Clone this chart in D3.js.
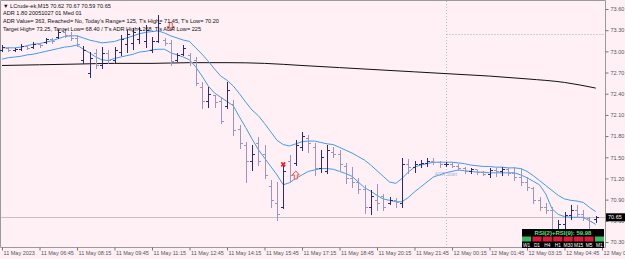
<!DOCTYPE html>
<html>
<head>
<meta charset="utf-8">
<script src="https://cdn.jsdelivr.net/npm/d3@7"></script>
<style>
  body { margin: 0; background: #fff0f5; }
  svg { display: block; font-family: "Liberation Sans", Arial, sans-serif; }
</style>
</head>
<body>
<svg id="chart" width="625" height="259"></svg>
<script>
// M15 bars, index 0 = 11 May 05:15
const timeLabels = ["11 May 2023", "11 May 06:45", "11 May 08:15", "11 May 09:45", "11 May 11:15",
  "11 May 12:45", "11 May 14:15", "11 May 15:45", "11 May 17:15", "11 May 18:45", "11 May 20:15",
  "11 May 21:45", "12 May 00:15", "12 May 01:45", "12 May 03:15", "12 May 04:45", "12 May 06:15"];

const barHigh = [73.09, 73.06, 73.05, 73.10, 73.09, 73.13, 73.12, 73.19, 73.19, 73.30, 73.31, 73.27, 73.23, 73.08, 72.99, 73.04,
  73.06, 73.02, 73.06, 73.23, 73.30, 73.33, 73.34, 73.37, 73.20, 73.51, 73.19, 73.16, 72.97, 73.09, 72.97, 72.92,
  72.56, 72.49, 72.38, 72.35, 72.56, 72.31, 71.96, 71.72, 71.67, 71.79, 71.67, 71.18, 71.15, 71.40, 71.53, 71.74,
  71.86, 71.81, 71.70, 71.60, 71.67, 71.64, 71.60, 71.42, 71.36, 71.21, 71.11, 71.04, 71.12, 70.98, 70.94, 70.92,
  71.49, 71.47, 71.45, 71.46, 71.49, 71.49, 71.45, 71.43, 71.43, 71.40, 71.36, 71.35, 71.32, 71.30, 71.35, 71.35,
  71.36, 71.35, 71.36, 71.35, 71.22, 71.08, 70.94, 70.85, 70.79, 70.61, 70.73, 70.82, 70.82, 70.75, 70.65, 70.67];
const barLow = [73.00, 73.00, 73.00, 73.02, 73.03, 73.05, 73.06, 73.12, 73.12, 73.19, 73.20, 73.16, 73.08, 72.83, 72.63, 72.76,
  72.76, 72.83, 72.85, 72.95, 72.99, 73.04, 73.12, 73.06, 72.99, 73.13, 73.09, 72.80, 72.87, 72.95, 72.80, 72.52,
  72.20, 72.21, 72.21, 71.98, 72.20, 71.81, 71.63, 71.15, 71.32, 71.39, 71.21, 70.80, 70.61, 70.78, 71.15, 71.39,
  71.60, 71.57, 71.25, 71.29, 71.28, 71.50, 71.32, 71.14, 71.08, 70.99, 70.71, 70.70, 70.75, 70.75, 70.84, 70.80,
  70.80, 71.28, 71.29, 71.36, 71.38, 71.40, 71.36, 71.38, 71.36, 71.32, 71.28, 71.28, 71.26, 71.25, 71.22, 71.23,
  71.25, 71.25, 71.18, 71.11, 71.04, 70.85, 70.75, 70.71, 70.33, 70.24, 70.50, 70.63, 70.65, 70.61, 70.44, 70.59];
const barOpen = [73.02, 73.05, 73.02, 73.04, 73.08, 73.06, 73.11, 73.13, 73.17, 73.20, 73.27, 73.23, 73.19, 72.88, 72.70, 72.98,
  72.80, 72.97, 72.88, 72.99, 73.10, 73.12, 73.18, 73.14, 73.02, 73.15, 73.16, 73.12, 72.88, 72.96, 72.95, 72.88,
  72.50, 72.30, 72.38, 72.30, 72.22, 72.25, 71.90, 71.68, 71.45, 71.70, 71.55, 71.10, 70.85, 70.80, 71.45, 71.42,
  71.65, 71.78, 71.65, 71.35, 71.30, 71.58, 71.55, 71.38, 71.20, 71.15, 71.05, 70.80, 70.90, 70.95, 70.85, 70.90,
  70.85, 71.40, 71.36, 71.40, 71.42, 71.45, 71.43, 71.40, 71.41, 71.38, 71.35, 71.31, 71.33, 71.29, 71.27, 71.32,
  71.30, 71.33, 71.28, 71.22, 71.15, 71.06, 70.90, 70.80, 70.76, 70.45, 70.55, 70.68, 70.75, 70.70, 70.64, 70.62];
const barClose = [73.06, 73.02, 73.04, 73.08, 73.05, 73.11, 73.09, 73.17, 73.14, 73.27, 73.23, 73.19, 73.10, 73.02, 72.90, 72.80,
  72.98, 72.88, 73.02, 73.18, 73.25, 73.28, 73.30, 73.30, 73.15, 73.40, 73.12, 72.86, 72.95, 73.05, 72.85, 72.55,
  72.30, 72.40, 72.28, 72.02, 72.45, 71.88, 71.70, 71.45, 71.55, 71.45, 71.25, 70.90, 70.70, 71.30, 71.25, 71.68,
  71.80, 71.70, 71.35, 71.50, 71.60, 71.55, 71.40, 71.20, 71.15, 71.05, 70.80, 70.95, 70.85, 70.80, 70.90, 70.86,
  71.40, 71.36, 71.40, 71.42, 71.45, 71.43, 71.40, 71.41, 71.38, 71.35, 71.31, 71.33, 71.29, 71.27, 71.32, 71.30,
  71.33, 71.28, 71.22, 71.15, 71.08, 70.90, 70.80, 70.76, 70.45, 70.55, 70.68, 70.75, 70.70, 70.64, 70.60, 70.65];

const upperBand = [73.05, 73.05, 73.05, 73.06, 73.08, 73.10, 73.11, 73.13, 73.15, 73.18, 73.21, 73.22, 73.22, 73.19, 73.16, 73.14,
  73.12, 73.13, 73.14, 73.17, 73.19, 73.22, 73.25, 73.27, 73.28, 73.29, 73.26, 73.22, 73.19, 73.16, 73.14, 73.05,
  72.96, 72.86, 72.75, 72.65, 72.59, 72.51, 72.40, 72.28, 72.17, 72.09, 71.98, 71.86, 71.74, 71.68, 71.66, 71.69,
  71.72, 71.73, 71.73, 71.71, 71.69, 71.68, 71.64, 71.60, 71.56, 71.51, 71.46, 71.39, 71.31, 71.23, 71.15, 71.13,
  71.20, 71.29, 71.36, 71.39, 71.41, 71.43, 71.43, 71.43, 71.43, 71.42, 71.41, 71.39, 71.38, 71.37, 71.37, 71.36,
  71.36, 71.35, 71.35, 71.34, 71.30, 71.24, 71.17, 71.10, 71.03, 70.96, 70.91, 70.89, 70.88, 70.86, 70.79, 70.73];
const lowerBand = [72.89, 72.91, 72.92, 72.93, 72.95, 72.96, 72.98, 73.00, 73.02, 73.04, 73.06, 73.07, 73.09, 73.03, 72.98, 72.92,
  72.88, 72.87, 72.90, 72.92, 72.94, 72.96, 72.99, 73.00, 73.02, 73.03, 73.03, 72.98, 72.95, 72.92, 72.88, 72.78,
  72.65, 72.51, 72.41, 72.35, 72.29, 72.23, 72.07, 71.92, 71.76, 71.61, 71.49, 71.37, 71.25, 71.11, 71.14, 71.20,
  71.25, 71.30, 71.32, 71.34, 71.34, 71.33, 71.30, 71.27, 71.23, 71.15, 71.07, 71.02, 70.96, 70.91, 70.89, 70.87,
  70.87, 70.93, 71.01, 71.08, 71.15, 71.22, 71.25, 71.28, 71.30, 71.32, 71.31, 71.30, 71.29, 71.29, 71.28, 71.28,
  71.28, 71.28, 71.28, 71.25, 71.21, 71.16, 71.11, 70.98, 70.77, 70.69, 70.66, 70.65, 70.65, 70.65, 70.60, 70.55];

// long moving average, read every 6 bars
const maIndex = [0, 6, 12, 18, 24, 30, 36, 42, 48, 54, 60, 66, 72, 78, 84, 90, 95];
const maValue = [72.80, 72.81, 72.82, 72.83, 72.83, 72.84, 72.84, 72.83, 72.80, 72.77, 72.74, 72.71, 72.68, 72.65, 72.61, 72.56, 72.48];

const priceTicks = [73.60, 73.30, 73.00, 72.70, 72.40, 72.10, 71.80, 71.50, 71.20, 70.90, 70.60, 70.30];
const lastPrice = 70.65;
const targetHigh = 73.25;
const dayStartIndex = 71;

const signals = [
  { type: "down", index: 27, price: 73.35 },
  { type: "cross", index: 45, price: 71.40 },
  { type: "up", index: 47, price: 71.25 }
];

const headerLines = [
  "\u25BC LCrude-ek,M15  70.62 70.67 70.59 70.65",
  "ADR 1.80 20051027 01 Med 01",
  "ADR Value= 363, Reached= No, Today's Range= 125, T's High= 71.45, T's Low= 70.20",
  "Target High= 73.25, Target Low= 68.40 / T's ADR High= 268, T's ADR Low= 225"
];

const rsiText = "RSI(2)+RSI(9): 59.98";
const tfNames = ["W1", "D1", "H4", "H1", "M30", "M15", "M5", "M1"];
const tfState = ["up", "down", "down", "down", "down", "down", "down", "up"];

const width = 625, height = 259;
const plotRight = 605, plotBottom = 247;

const svg = d3.select("#chart");

const x = d3.scaleLinear().domain([0, 96]).range([2, 602]);
const y = d3.scaleLinear().domain([70.30, 73.60]).range([242, 9]);

// background
svg.append("rect").attr("width", width).attr("height", height).attr("fill", "#fff0f5");

// frame
svg.append("path")
  .attr("d", `M0.5,${plotBottom + 0.5} V0.5 H${plotRight + 0.5} V${plotBottom + 0.5} H0.5`)
  .attr("fill", "none").attr("stroke", "#9a9a9a");

// axes
const yAxis = d3.axisRight(y).tickValues(priceTicks).tickFormat(d3.format(".2f")).tickSize(3).tickPadding(2);
const gy = svg.append("g").attr("transform", `translate(${plotRight + 0.5},0)`).call(yAxis);
gy.select(".domain").remove();
gy.selectAll("line").attr("stroke", "#777");
gy.selectAll("text").attr("fill", "#555").attr("font-size", 5.5);

const xAxis = d3.axisBottom(x).tickValues(d3.range(0, 97, 6)).tickFormat((d, i) => timeLabels[i]).tickSize(3).tickPadding(1);
const gx = svg.append("g").attr("transform", `translate(0,${plotBottom + 0.5})`).call(xAxis);
gx.select(".domain").remove();
gx.selectAll("line").attr("stroke", "#777");
gx.selectAll("text").attr("fill", "#555").attr("font-size", 5.5).attr("text-anchor", "start").attr("dx", 1);

const snap = v => Math.round(v) + 0.5;

// day separator and target high
svg.append("line")
  .attr("x1", snap(x(dayStartIndex))).attr("x2", snap(x(dayStartIndex)))
  .attr("y1", 1).attr("y2", plotBottom)
  .attr("stroke", "#bbb").attr("stroke-dasharray", "1,2");
svg.append("line")
  .attr("x1", snap(x(dayStartIndex))).attr("x2", plotRight)
  .attr("y1", snap(y(targetHigh))).attr("y2", snap(y(targetHigh)))
  .attr("stroke", "#aaa").attr("stroke-dasharray", "1,2");

// current price line
svg.append("line")
  .attr("x1", 1).attr("x2", plotRight)
  .attr("y1", snap(y(lastPrice))).attr("y2", snap(y(lastPrice)))
  .attr("stroke", "#c4c0c4");

// long MA
svg.append("path")
  .datum(maIndex.map((d, i) => [d, maValue[i]]))
  .attr("fill", "none").attr("stroke", "#111").attr("stroke-width", 1)
  .attr("d", d3.line().x(d => x(d[0])).y(d => y(d[1])).curve(d3.curveMonotoneX));

// bands
const bandLine = d3.line().x((d, i) => x(i)).y(d => y(d));
[upperBand, lowerBand].forEach(band => {
  svg.append("path").datum(band)
    .attr("fill", "none").attr("stroke", "#3f9cf0").attr("stroke-width", 1)
    .attr("d", bandLine);
});

// OHLC bars
const bars = svg.append("g").selectAll("g").data(barHigh.map((h, i) => i)).join("g")
  .attr("stroke", i => barClose[i] >= barOpen[i] ? "#2a2a7c" : "#9a96c4");
bars.append("line")
  .attr("x1", i => snap(x(i))).attr("x2", i => snap(x(i)))
  .attr("y1", i => Math.round(y(barHigh[i]))).attr("y2", i => Math.round(y(barLow[i])) + 1);
bars.append("line")
  .attr("x1", i => snap(x(i)) - 2.5).attr("x2", i => snap(x(i)))
  .attr("y1", i => snap(y(barOpen[i]))).attr("y2", i => snap(y(barOpen[i])));
bars.append("line")
  .attr("x1", i => snap(x(i))).attr("x2", i => snap(x(i)) + 2.5)
  .attr("y1", i => snap(y(barClose[i]))).attr("y2", i => snap(y(barClose[i])));

// signal markers
const arrowPath = "M-1.5,-4 H1.5 V0 H3.5 L0,4 L-3.5,0 H-1.5 Z";
signals.forEach(s => {
  const g = svg.append("g").attr("transform", `translate(${x(s.index)},${y(s.price)})`);
  if (s.type === "cross") {
    g.append("path").attr("d", "M-2,-2 L2,2 M-2,2 L2,-2")
      .attr("stroke", "#ee2020").attr("stroke-width", 1.6);
  } else {
    g.append("path").attr("d", arrowPath)
      .attr("transform", s.type === "up" ? "rotate(180)" : null)
      .attr("fill", "#fff0f5").attr("stroke", "#f04040").attr("stroke-width", 0.9);
  }
});

// ADR start label
svg.append("text").attr("x", x(dayStartIndex) - 11).attr("y", y(71.24))
  .attr("font-size", 5).attr("fill", "#9fb6d6").text("ADR Start");

// header text
svg.append("g").selectAll("text").data(headerLines).join("text")
  .attr("x", 3).attr("y", (d, i) => 7.5 + i * 7.7)
  .attr("font-size", 5.6).attr("fill", "#111")
  .text(d => d);

// last price box
svg.append("rect").attr("x", plotRight + 1).attr("y", y(lastPrice) - 4).attr("width", 19).attr("height", 8).attr("fill", "#000");
svg.append("text").attr("x", plotRight + 3).attr("y", y(lastPrice) + 2)
  .attr("font-size", 5.5).attr("fill", "#fff").text(d3.format(".2f")(lastPrice));

// RSI / timeframe panel
const panelX = 522, panelW = 82;
svg.append("rect").attr("x", panelX).attr("y", 229).attr("width", panelW).attr("height", 7).attr("fill", "#000");
svg.append("text").attr("x", panelX + panelW / 2).attr("y", 234.5).attr("text-anchor", "middle")
  .attr("font-size", 6).attr("font-weight", "bold").attr("fill", "#5ee07a").text(rsiText);
const cell = d3.scaleBand().domain(tfNames).range([panelX, panelX + panelW]).paddingInner(0.12);
svg.append("rect").attr("x", panelX).attr("y", 236).attr("width", panelW).attr("height", 12).attr("fill", "#000");
svg.append("g").selectAll("rect").data(tfNames).join("rect")
  .attr("x", d => cell(d)).attr("y", 236.5).attr("width", cell.bandwidth()).attr("height", 5)
  .attr("fill", (d, i) => tfState[i] === "up" ? "#3cb864" : "#d81a3c");
svg.append("g").selectAll("text").data(tfNames).join("text")
  .attr("x", d => cell(d) + cell.bandwidth() / 2).attr("y", 247)
  .attr("text-anchor", "middle").attr("font-size", 4.8).attr("fill", "#fff")
  .text(d => d);
</script>
</body>
</html>
